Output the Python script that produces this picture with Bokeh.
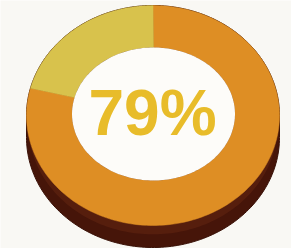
import numpy as np
from bokeh.plotting import figure
from bokeh.models import Range1d, ColumnDataSource
from bokeh.embed import file_html
from bokeh.resources import INLINE
from bokeh.core.properties import value

# ---- data ----
categories = ["79%", "21%"]
shares = [79, 21]
slice_colors = ["#de8e24", "#d8c24c"]
label = f"{shares[0]}%"

# ---- layout (reference pixel space, y measured downward then flipped) ----
W, H = 291, 248
CX, CY, RX, RY = 152.5, H - 115, 126.5, 110
ICX, ICY, IRX, IRY = 153, H - 113.5, 81.5, 66.5
DEPTH = 22
BG = "#f9f8f4"

p = figure(width=W, height=H, output_backend="svg", toolbar_location=None,
           x_range=Range1d(0, W), y_range=Range1d(0, H),
           min_border=0, background_fill_color=BG, border_fill_color=BG,
           outline_line_color=None)
p.axis.visible = False
p.grid.visible = False


def ell(cx, cy, rx, ry, t):
    return cx + rx * np.cos(t), cy + ry * np.sin(t)

# side (extrusion)
t1 = np.linspace(0, np.pi, 120)
t2 = np.linspace(np.pi, 2 * np.pi, 120)
x1, y1 = ell(CX, CY, RX, RY, t1)
x2, y2 = ell(CX, CY - DEPTH, RX, RY, t2)
p.patch(np.concatenate([x1, x2]), np.concatenate([y1, y2]),
        fill_color="#461509", line_color="#3a1208", line_width=1)
x3, y3 = ell(CX, CY - DEPTH * 0.45, RX * 0.985, RY * 0.99, t2)
x4, y4 = ell(CX, CY, RX, RY, t2[::-1])
p.patch(np.concatenate([x3, x4]), np.concatenate([y3, y4]),
        fill_color="#5a200f", line_color=None, fill_alpha=0.8)

# top face wedges
xs, ys = [], []
cum = 0
total = sum(shares)
for s in shares:
    a0 = np.pi / 2 - 2 * np.pi * cum / total
    a1 = np.pi / 2 - 2 * np.pi * (cum + s) / total
    t = np.linspace(a0, a1, 200)
    ox, oy = ell(CX, CY, RX, RY, t)
    ix, iy = ell(ICX, ICY, IRX, IRY, t[::-1])
    xs.append(list(np.concatenate([ox, ix])))
    ys.append(list(np.concatenate([oy, iy])))
    cum += s

src = ColumnDataSource(dict(xs=xs, ys=ys, color=slice_colors, name=categories))
p.patches("xs", "ys", source=src, fill_color="color", line_color="color", line_width=0.5)

# hole
th = np.linspace(0, 2 * np.pi, 200)
hx, hy = ell(ICX, ICY, IRX, IRY, th)
p.patch(hx, hy, fill_color="#fdfcf9", line_color=None)

p.text(x=[152], y=[H - 112], text=[label], text_font=value("Liberation Sans"),
       text_font_style="bold", text_font_size="64px", text_align="center",
       text_baseline="middle", text_color="#e8bc2a")

open("out.html", "w").write(file_html(p, INLINE))
